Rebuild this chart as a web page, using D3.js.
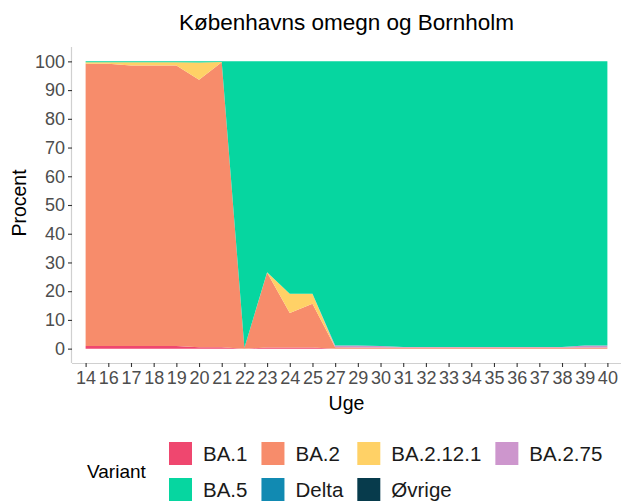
<!DOCTYPE html>
<html>
<head>
<meta charset="utf-8">
<script src="https://cdn.jsdelivr.net/npm/d3@7"></script>
<style>
  body { margin: 0; background: #fff; }
  svg text { font-family: "Liberation Sans", Arial, sans-serif; }
</style>
</head>
<body>
<div id="chart"></div>
<script>
// week labels (discrete x axis)
var weeks = ["14","16","17","18","19","20","21","22","23","24","25","27","29","30","31","32","33","34","35","36","37","38","39","40"];

// percent per variant, per week
var ba1     = [0.9, 0.9, 0.9, 0.9, 0.9, 0.5, 0.5, 0.0, 0.4, 0.4, 0.4, 0.0, 0.0, 0.0, 0.0, 0.0, 0.0, 0.0, 0.0, 0.0, 0.0, 0.0, 0.0, 0.0];
var ba2     = [98.3, 98.3, 97.7, 97.7, 97.7, 93.1, 99.2, 0.3, 26.1, 12.0, 15.2, 0.5, 0.4, 0.4, 0.4, 0.4, 0.4, 0.4, 0.4, 0.4, 0.4, 0.4, 0.4, 0.4];
var ba2121  = [0.5, 0.5, 1.1, 1.1, 1.1, 6.0, 0.1, 0.0, 0.1, 6.7, 3.5, 0.0, 0.0, 0.0, 0.0, 0.0, 0.0, 0.0, 0.0, 0.0, 0.0, 0.0, 0.0, 0.0];
var ba275   = [0.0, 0.0, 0.0, 0.0, 0.0, 0.0, 0.0, 0.0, 0.0, 0.0, 0.0, 0.6, 0.7, 0.5, 0.2, 0.2, 0.2, 0.2, 0.2, 0.2, 0.2, 0.2, 0.7, 0.7];
var ba5     = [0.3, 0.3, 0.3, 0.3, 0.3, 0.4, 0.2, 99.7, 73.4, 80.9, 80.9, 98.9, 98.9, 99.1, 99.4, 99.4, 99.4, 99.4, 99.4, 99.4, 99.4, 99.4, 98.9, 98.9];
var delta   = [0, 0, 0, 0, 0, 0, 0, 0, 0, 0, 0, 0, 0, 0, 0, 0, 0, 0, 0, 0, 0, 0, 0, 0];
var oevrige = [0, 0, 0, 0, 0, 0, 0, 0, 0, 0, 0, 0, 0, 0, 0, 0, 0, 0, 0, 0, 0, 0, 0, 0];

var variants = ["BA.1", "BA.2", "BA.2.12.1", "BA.2.75", "BA.5", "Delta", "Øvrige"];
var colors   = ["#ef476f", "#f78c6b", "#ffd166", "#cd96cd", "#06d6a0", "#118ab2", "#073b4c"];
var yTicks   = [0, 10, 20, 30, 40, 50, 60, 70, 80, 90, 100];

var svgWidth = 621, svgHeight = 504;
var margin = { top: 47, right: 0, bottom: 141, left: 72 };
var chartWidth = svgWidth - margin.left - margin.right;
var chartHeight = svgHeight - margin.top - margin.bottom;

var svg = d3.select("#chart").append("svg")
  .attr("width", svgWidth)
  .attr("height", svgHeight);

// build rows for the stack
var series = [ba1, ba2, ba2121, ba275, ba5, delta, oevrige];
var data = weeks.map(function(w, i) {
  var row = { week: w };
  variants.forEach(function(v, j) { row[v] = series[j][i]; });
  return row;
});

var stacked = d3.stack().keys(variants)(data);

// scales (ggplot style expansion: 0.6 step on discrete x, 5% on y)
var x = d3.scalePoint()
  .domain(weeks)
  .range([0, chartWidth])
  .padding(0.6);

var y = d3.scaleLinear()
  .domain([-5, 105])
  .range([chartHeight, 0]);

var color = d3.scaleOrdinal().domain(variants).range(colors);

var chartGroup = svg.append("g")
  .attr("transform", `translate(${margin.left}, ${margin.top})`);

var area = d3.area()
  .x(d => x(d.data.week))
  .y0(d => y(d[0]))
  .y1(d => y(d[1]));

chartGroup.selectAll(".layer")
  .data(stacked)
  .enter()
  .append("path")
  .attr("class", "layer")
  .attr("fill", d => color(d.key))
  .attr("d", area);

// axes
var bottomAxis = d3.axisBottom(x).tickSize(4).tickPadding(4);
var leftAxis = d3.axisLeft(y).tickValues(yTicks).tickSize(4).tickPadding(3);

var xAxis = chartGroup.append("g")
  .attr("transform", `translate(0, ${chartHeight})`)
  .call(bottomAxis);

var yAxis = chartGroup.append("g")
  .call(leftAxis);

[xAxis, yAxis].forEach(function(g) {
  g.select(".domain").attr("stroke", "#d0d0d0").attr("stroke-width", 1.2);
  g.selectAll(".tick line").attr("stroke", "#333333").attr("stroke-width", 1.1);
  g.selectAll(".tick text").attr("fill", "#4d4d4d").style("font-size", "18px");
});
// discrete axis line spans the whole panel
xAxis.select(".domain").attr("d", `M0,0.5H${chartWidth}`);
yAxis.select(".domain").attr("d", `M-0.5,0V${chartHeight}`);

// title and axis titles
svg.append("text")
  .attr("x", margin.left + chartWidth / 2)
  .attr("y", 30)
  .attr("text-anchor", "middle")
  .style("font-size", "22.5px")
  .attr("fill", "#000")
  .text("Københavns omegn og Bornholm");

svg.append("text")
  .attr("x", margin.left + chartWidth / 2)
  .attr("y", 410)
  .attr("text-anchor", "middle")
  .style("font-size", "19.5px")
  .attr("fill", "#000")
  .text("Uge");

svg.append("text")
  .attr("transform", `translate(26, ${margin.top + chartHeight / 2 - 2}) rotate(-90)`)
  .attr("text-anchor", "middle")
  .style("font-size", "19.5px")
  .attr("fill", "#000")
  .text("Procent");

// legend at the bottom, 2 rows x 4 columns
var legend = svg.append("g").attr("class", "legend");

legend.append("text")
  .attr("x", 87)
  .attr("y", 478)
  .style("font-size", "19px")
  .attr("fill", "#000")
  .text("Variant");

var nCol = 4, keySize = 23, rowY = [442, 478];
var items = legend.selectAll(".item")
  .data(variants)
  .enter()
  .append("g")
  .attr("class", "item");

items.append("rect")
  .attr("width", keySize)
  .attr("height", keySize)
  .attr("fill", d => color(d));

var labels = items.append("text")
  .attr("x", keySize + 11)
  .attr("y", keySize / 2)
  .attr("dy", "0.36em")
  .style("font-size", "20.5px")
  .attr("fill", "#1a1a1a")
  .text(d => d);

// column widths from the widest label in each column
var widths = [];
labels.each(function(d, i) {
  var c = i % nCol;
  widths[c] = Math.max(widths[c] || 0, this.getComputedTextLength());
});
var colX = [169];
for (var c = 1; c < nCol; c++) {
  colX[c] = colX[c - 1] + keySize + 11 + widths[c - 1] + 14;
}
items.attr("transform", (d, i) => `translate(${colX[i % nCol]}, ${rowY[Math.floor(i / nCol)]})`);
</script>
</body>
</html>
